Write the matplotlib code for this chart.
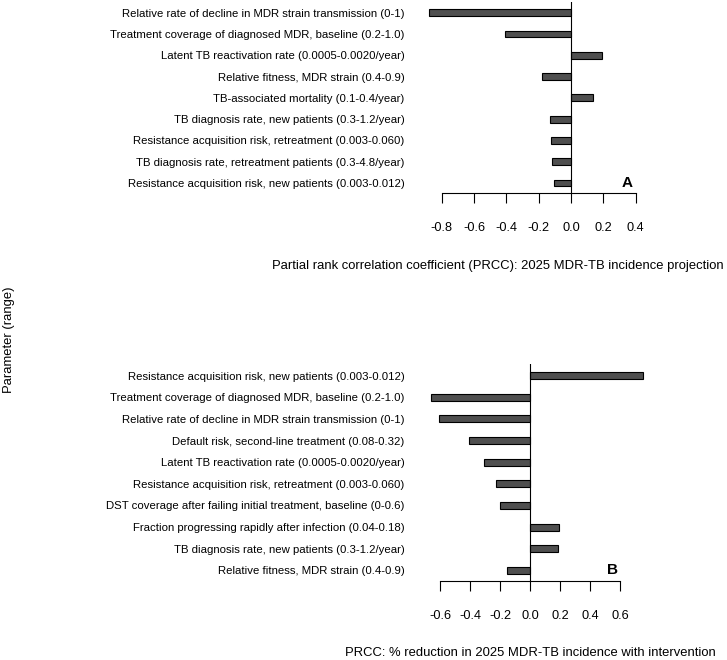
import numpy as np
import matplotlib
matplotlib.use('Agg')
import matplotlib.pyplot as plt

plt.rcParams['font.family'] = ['Liberation Sans', 'DejaVu Sans']

# Panel A: PRCC for 2025 MDR-TB incidence projection
params_a = [
    'Relative rate of decline in MDR strain transmission (0-1)',
    'Treatment coverage of diagnosed MDR, baseline (0.2-1.0)',
    'Latent TB reactivation rate (0.0005-0.0020/year)',
    'Relative fitness, MDR strain (0.4-0.9)',
    'TB-associated mortality (0.1-0.4/year)',
    'TB diagnosis rate, new patients (0.3-1.2/year)',
    'Resistance acquisition risk, retreatment (0.003-0.060)',
    'TB diagnosis rate, retreatment patients (0.3-4.8/year)',
    'Resistance acquisition risk, new patients (0.003-0.012)',
]
prcc_a = [-0.882, -0.411, 0.194, -0.182, 0.139, -0.127, -0.123, -0.117, -0.108]
ticks_a = [-0.8, -0.6, -0.4, -0.2, 0.0, 0.2, 0.4]

# Panel B: PRCC for % reduction with intervention
params_b = [
    'Resistance acquisition risk, new patients (0.003-0.012)',
    'Treatment coverage of diagnosed MDR, baseline (0.2-1.0)',
    'Relative rate of decline in MDR strain transmission (0-1)',
    'Default risk, second-line treatment (0.08-0.32)',
    'Latent TB reactivation rate (0.0005-0.0020/year)',
    'Resistance acquisition risk, retreatment (0.003-0.060)',
    'DST coverage after failing initial treatment, baseline (0-0.6)',
    'Fraction progressing rapidly after infection (0.04-0.18)',
    'TB diagnosis rate, new patients (0.3-1.2/year)',
    'Relative fitness, MDR strain (0.4-0.9)',
]
prcc_b = [0.756, -0.662, -0.609, -0.407, -0.304, -0.229, -0.198, 0.196, 0.184, -0.156]
ticks_b = [-0.6, -0.4, -0.2, 0.0, 0.2, 0.4, 0.6]

W, H = 727, 660
fig = plt.figure(figsize=(W / 100, H / 100), dpi=100)


def px_axes(x0, y0, x1, y1):
    # pixel box (top-left origin) -> figure axes
    return fig.add_axes([x0 / W, 1 - y1 / H, (x1 - x0) / W, (y1 - y0) / H])


def panel(ax, labels, vals, ticks, xlim, ylim, letter, letter_xy):
    y = np.arange(len(vals))
    ax.barh(y, vals, height=0.32, color='#4f4f4f', edgecolor='black', linewidth=0.8)
    ax.axvline(0, color='black', linewidth=0.8)
    ax.set_xlim(*xlim)
    ax.set_ylim(*ylim)
    ax.set_yticks(y)
    ax.set_yticklabels(labels, fontsize=8.2)
    ax.tick_params(axis='y', length=0, pad=11)
    ax.set_xticks(ticks)
    ax.set_xticklabels(['%.1f' % t for t in ticks], fontsize=9.2)
    ax.tick_params(axis='x', direction='out', length=7.2, width=0.8, pad=13.5)
    for s in ['top', 'right', 'left']:
        ax.spines[s].set_visible(False)
    ax.spines['bottom'].set_bounds(ticks[0], ticks[-1])
    ax.spines['bottom'].set_linewidth(0.8)
    ax.text(letter_xy[0], letter_xy[1], letter, fontsize=11, fontweight='bold',
            ha='center', va='center', transform=ax.transData)


# panel A: zero at x=571, 161.5 px per unit
axA = px_axes(420, 2, 650, 193)
panel(axA, params_a, prcc_a, ticks_a,
      ((420 - 571) / 161.5, (650 - 571) / 161.5), (8.47, -0.5), 'A', (0.35, 8))

# panel B: zero at x=530, 150 px per unit
axB = px_axes(420, 364, 650, 581)
panel(axB, params_b, prcc_b, ticks_b,
      ((420 - 530) / 150, (650 - 530) / 150), (9.49, -0.54), 'B', (0.55, 9))

fig.text(498 / W, 1 - 266 / H,
         'Partial rank correlation coefficient (PRCC): 2025 MDR-TB incidence projection',
         ha='center', va='center', fontsize=9.4)
fig.text(530 / W, 1 - 653 / H,
         'PRCC: % reduction in 2025 MDR-TB incidence with intervention',
         ha='center', va='center', fontsize=9.4)
fig.text(9 / W, 1 - 340 / H, 'Parameter (range)', rotation=90,
         ha='center', va='center', fontsize=9.4)

fig.savefig('out.png', dpi=100)
